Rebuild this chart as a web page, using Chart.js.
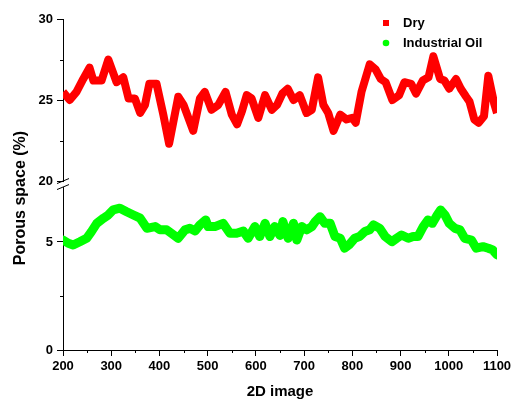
<!DOCTYPE html>
<html>
<head>
<meta charset="utf-8">
<script src="https://cdn.jsdelivr.net/npm/chart.js@4/dist/chart.umd.min.js"></script>
<style>
  html, body { margin: 0; padding: 0; background: #fff; }
  #wrap { width: 515px; height: 401px; }
</style>
</head>
<body>
<div id="wrap"><canvas id="porousChart"></canvas></div>
<script>
// ---- data ----
const dryX = [200, 214, 228, 242, 255, 263, 280, 294, 311, 325, 336, 349, 360, 370, 379, 394, 408, 420, 439, 450,
  470, 484, 494, 508, 522, 537, 550, 561, 571, 581, 591, 605, 619, 633, 644, 655, 666, 678, 691, 705,
  716, 729, 740, 750, 761, 775, 788, 800, 807, 819, 836, 848, 859, 869, 883, 897, 908, 922, 932, 946,
  958, 968, 982, 991, 1001, 1015, 1025, 1036, 1043, 1053, 1062, 1073, 1082, 1094, 1100];
const dryY = [25.5, 25.0, 25.5, 26.3, 27.0, 26.2, 26.2, 27.5, 26.1, 26.4, 25.1, 25.1, 24.2, 24.7, 26.0, 26.0, 24.1, 22.3, 25.2, 24.7,
  23.1, 25.1, 25.5, 24.4, 24.7, 25.5, 24.1, 23.5, 24.3, 25.3, 25.1, 23.9, 25.3, 24.4, 24.7, 25.4, 25.7, 25.0, 25.3, 24.2,
  24.4, 26.4, 24.7, 24.2, 23.1, 24.1, 23.8, 23.9, 23.6, 25.5, 27.2, 26.9, 26.3, 26.1, 25.0, 25.3, 26.1, 26.0, 25.4, 26.2,
  26.4, 27.7, 26.3, 26.2, 25.7, 26.3, 25.7, 25.2, 24.9, 23.8, 23.6, 24.0, 26.5, 24.8, 24.2];

const oilX = [200, 211, 221, 235, 249, 259, 270, 284, 294, 304, 318, 332, 346, 360, 374, 391, 401, 415, 425, 439,
  453, 463, 474, 484, 496, 501, 515, 532, 546, 560, 574, 584, 598, 608, 619, 629, 639, 650, 656, 667,
  678, 685, 695, 705, 716, 723, 733, 743, 754, 764, 775, 784, 793, 805, 815, 826, 836, 844, 857, 868,
  882, 892, 902, 916, 926, 936, 947, 957, 966, 976, 983, 992, 1001, 1013, 1023, 1033, 1047, 1057, 1071, 1082,
  1091, 1100];
const oilY = [5.09, 4.94, 4.86, 5.01, 5.17, 5.48, 5.86, 6.10, 6.25, 6.48, 6.56, 6.40, 6.25, 6.10, 5.63, 5.71, 5.56, 5.56, 5.40, 5.17,
  5.56, 5.63, 5.51, 5.79, 6.02, 5.71, 5.71, 5.86, 5.40, 5.40, 5.50, 5.17, 5.71, 5.25, 5.86, 5.25, 5.71, 5.30, 5.94, 5.17,
  5.86, 5.09, 5.71, 5.56, 5.71, 5.94, 6.17, 5.86, 5.86, 5.25, 5.17, 4.71, 4.86, 5.17, 5.25, 5.48, 5.56, 5.79, 5.63, 5.25,
  5.01, 5.17, 5.32, 5.17, 5.25, 5.25, 5.71, 6.02, 5.86, 6.25, 6.48, 6.25, 5.86, 5.63, 5.56, 5.17, 5.09, 4.71, 4.78, 4.71,
  4.63, 4.40];

const seriesNames = ['Dry', 'Industrial Oil'];
const seriesColors = ['#ff0000', '#00ff00'];

const FONT = '"Liberation Sans", Arial, sans-serif';

function toPoints(xs, ys) {
  return xs.map((x, i) => ({ x: x, y: ys[i] }));
}

// minor ticks, axis break marks, y title and the legend
const decorations = {
  id: 'decorations',
  afterDraw(chart) {
    const ctx = chart.ctx;
    const area = chart.chartArea;
    const yHigh = chart.scales.yHigh;
    const x0 = area.left;
    const yb = yHigh.getPixelForValue(20);

    ctx.save();
    ctx.strokeStyle = '#000';
    ctx.lineWidth = 1;
    ctx.beginPath();
    chart.scales.x.ticks.forEach(t => {
      if (t.value % 100 !== 0) {
        const px = Math.round(chart.scales.x.getPixelForValue(t.value)) + 0.5;
        ctx.moveTo(px, area.bottom); ctx.lineTo(px, area.bottom + 3);
      }
    });
    ['yLow', 'yHigh'].forEach(id => {
      const s = chart.scales[id];
      s.ticks.forEach(t => {
        if (t.value % 5 !== 0) {
          const py = Math.round(s.getPixelForValue(t.value)) + 0.5;
          ctx.moveTo(x0, py); ctx.lineTo(x0 - 3, py);
        }
      });
    });
    ctx.stroke();

    // gap in the axis line
    ctx.fillStyle = '#fff';
    ctx.fillRect(x0 - 2, yb + 1, 4, 5);
    ctx.beginPath();
    ctx.moveTo(x0 - 6, yb + 2.5); ctx.lineTo(x0 + 6, yb - 2.5);
    ctx.moveTo(x0 - 6, yb + 8.5); ctx.lineTo(x0 + 6, yb + 3.5);
    ctx.stroke();

    // y title
    ctx.fillStyle = '#000';
    ctx.font = 'bold 16px ' + FONT;
    ctx.textAlign = 'center';
    ctx.textBaseline = 'middle';
    ctx.translate(21, 198);
    ctx.rotate(-Math.PI / 2);
    ctx.fillText('Porous space (%)', 0, 0);
    ctx.restore();

    // legend
    ctx.save();
    ctx.font = 'bold 13px ' + FONT;
    ctx.textAlign = 'left';
    ctx.textBaseline = 'middle';
    const lx = 386, ly = [23, 43];
    ctx.fillStyle = seriesColors[0];
    ctx.fillRect(lx - 3, ly[0] - 3, 6, 6);
    ctx.fillStyle = seriesColors[1];
    ctx.beginPath();
    ctx.arc(lx, ly[1], 3.3, 0, Math.PI * 2);
    ctx.fill();
    ctx.fillStyle = '#000';
    ctx.fillText(seriesNames[0], 403, ly[0]);
    ctx.fillText(seriesNames[1], 403, ly[1]);
    ctx.restore();
  }
};

function tickGrid(step) {
  return {
    drawOnChartArea: false,
    drawTicks: true,
    tickLength: 6,
    color: '#000',
    tickColor: c => (c.tick && c.tick.value % step === 0 ? '#000' : 'rgba(0,0,0,0)')
  };
}

const yFit = s => { s.width = 63; };

new Chart(document.getElementById('porousChart'), {
  type: 'line',
  data: {
    datasets: [
      {
        label: seriesNames[0],
        data: toPoints(dryX, dryY),
        yAxisID: 'yHigh',
        borderColor: seriesColors[0],
        borderWidth: 8,
        pointRadius: 0,
        tension: 0,
        borderJoinStyle: 'round'
      },
      {
        label: seriesNames[1],
        data: toPoints(oilX, oilY),
        yAxisID: 'yLow',
        borderColor: seriesColors[1],
        borderWidth: 9,
        pointRadius: 0,
        tension: 0,
        borderJoinStyle: 'round',
        borderCapStyle: 'round'
      }
    ]
  },
  options: {
    responsive: true,
    maintainAspectRatio: false,
    animation: false,
    layout: { padding: { top: 19, right: 18, bottom: 0, left: 0 } },
    plugins: {
      legend: { display: false },
      tooltip: { enabled: false }
    },
    scales: {
      x: {
        type: 'linear',
        min: 200,
        max: 1100,
        grid: tickGrid(100),
        border: { display: true, color: '#000', width: 1 },
        ticks: {
          stepSize: 50,
          autoSkip: false,
          maxRotation: 0,
          padding: 3,
          color: '#000',
          font: { family: FONT, size: 13, weight: 'bold' },
          callback: v => (v % 100 === 0 ? v : '')
        },
        title: {
          display: true,
          text: '2D image',
          color: '#000',
          font: { family: FONT, size: 15, weight: 'bold' },
          padding: { top: 0, bottom: 0 }
        },
        afterFit: s => { s.height = 51; }
      },
      yLow: {
        type: 'linear',
        position: 'left',
        stack: 'porous',
        stackWeight: 161,
        min: 0,
        max: 7.45,
        grid: tickGrid(5),
        border: { display: true, color: '#000', width: 1 },
        ticks: {
          stepSize: 2.5,
          includeBounds: false,
          padding: 4,
          color: '#000',
          font: { family: FONT, size: 13, weight: 'bold' },
          callback: v => (v % 5 === 0 ? v : '')
        },
        afterFit: yFit
      },
      yHigh: {
        type: 'linear',
        position: 'left',
        stack: 'porous',
        stackWeight: 170,
        min: 19.51,
        max: 30,
        grid: tickGrid(5),
        border: { display: true, color: '#000', width: 1 },
        ticks: {
          stepSize: 2.5,
          includeBounds: false,
          padding: 4,
          color: '#000',
          font: { family: FONT, size: 13, weight: 'bold' },
          callback: v => (v % 5 === 0 ? v : '')
        },
        afterFit: yFit
      }
    }
  },
  plugins: [decorations]
});
</script>
</body>
</html>
